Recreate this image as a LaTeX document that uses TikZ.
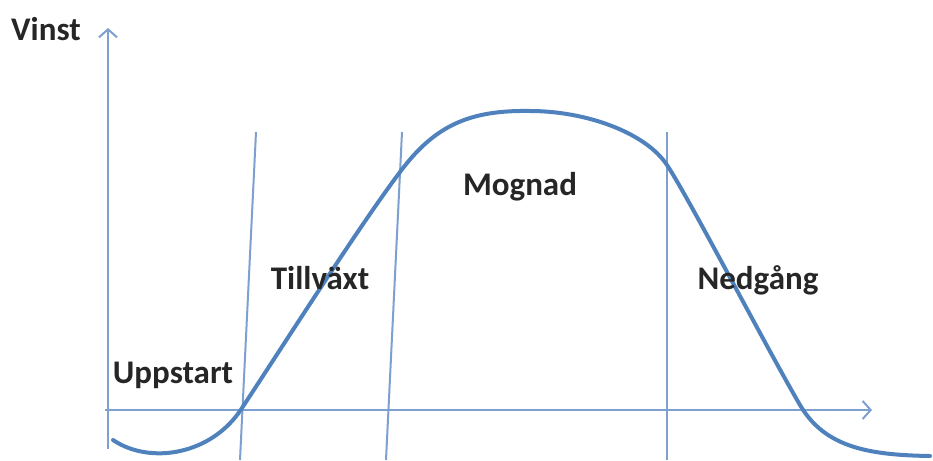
\documentclass[tikz,border=0pt]{standalone}
\usepackage{fontspec}
\setmainfont{Carlito}
\usepackage{tikz}
\usetikzlibrary{arrows.meta}

\begin{document}
\begin{tikzpicture}[
    x=1pt, y=-1pt,
    every node/.style={font=\fontsize{33}{38}\selectfont\bfseries, text=black!85, inner sep=0pt},
    axis/.style={-{Straight Barb[length=8pt, width=18pt, line width=2pt]}, line width=2pt, draw=axiscol},
    divider/.style={line width=2pt, draw=axiscol},
    curve/.style={line width=4pt, draw=curvecol, line cap=round}
  ]
    \colorlet{axiscol}{rgb,255:red,125;green,160;blue,208}
    \colorlet{curvecol}{rgb,255:red,79;green,129;blue,189}
    \useasboundingbox (0,0) rectangle (933,460);
    % axes
    \coordinate (yfoot) at (108,449);
    \coordinate (ytop) at (108,28);
    \coordinate (xfoot) at (105,410);
    \coordinate (xtop) at (872,410);
    \draw[axis] (yfoot) -- (ytop);
    \draw[axis] (xfoot) -- (xtop);
    % phase borders
    \coordinate (b1top) at (256,132);
    \coordinate (b1bot) at (240,460);
    \coordinate (b2top) at (402,132);
    \coordinate (b2bot) at (386,460);
    \coordinate (b3top) at (667,132);
    \coordinate (b3bot) at (667,460);
    \draw[divider] (b1top) -- (b1bot);
    \draw[divider] (b2top) -- (b2bot);
    \draw[divider] (b3top) -- (b3bot);
    % life cycle curve
    \draw[curve] (113,440) .. controls (150,465) and (212,455) .. (242,408)
      .. controls (290,335) and (360,225) .. (400,172)
      .. controls (435,125) and (470,110) .. (530,111)
      .. controls (585,111) and (645,132) .. (667,165)
      .. controls (690,200) and (765,345) .. (800,405)
      .. controls (825,448) and (870,455) .. (930,456);
    % labels
    \node (vinst) at (46,29) {Vinst};
    \node (uppstart) at (173,375) {Uppstart};
    \node (tillvaxt) at (320,278) {Tillväxt};
    \node (mognad) at (520,187) {Mognad};
    \node (nedgang) at (758,280) {Nedgång};
  \end{tikzpicture}
\end{document}
